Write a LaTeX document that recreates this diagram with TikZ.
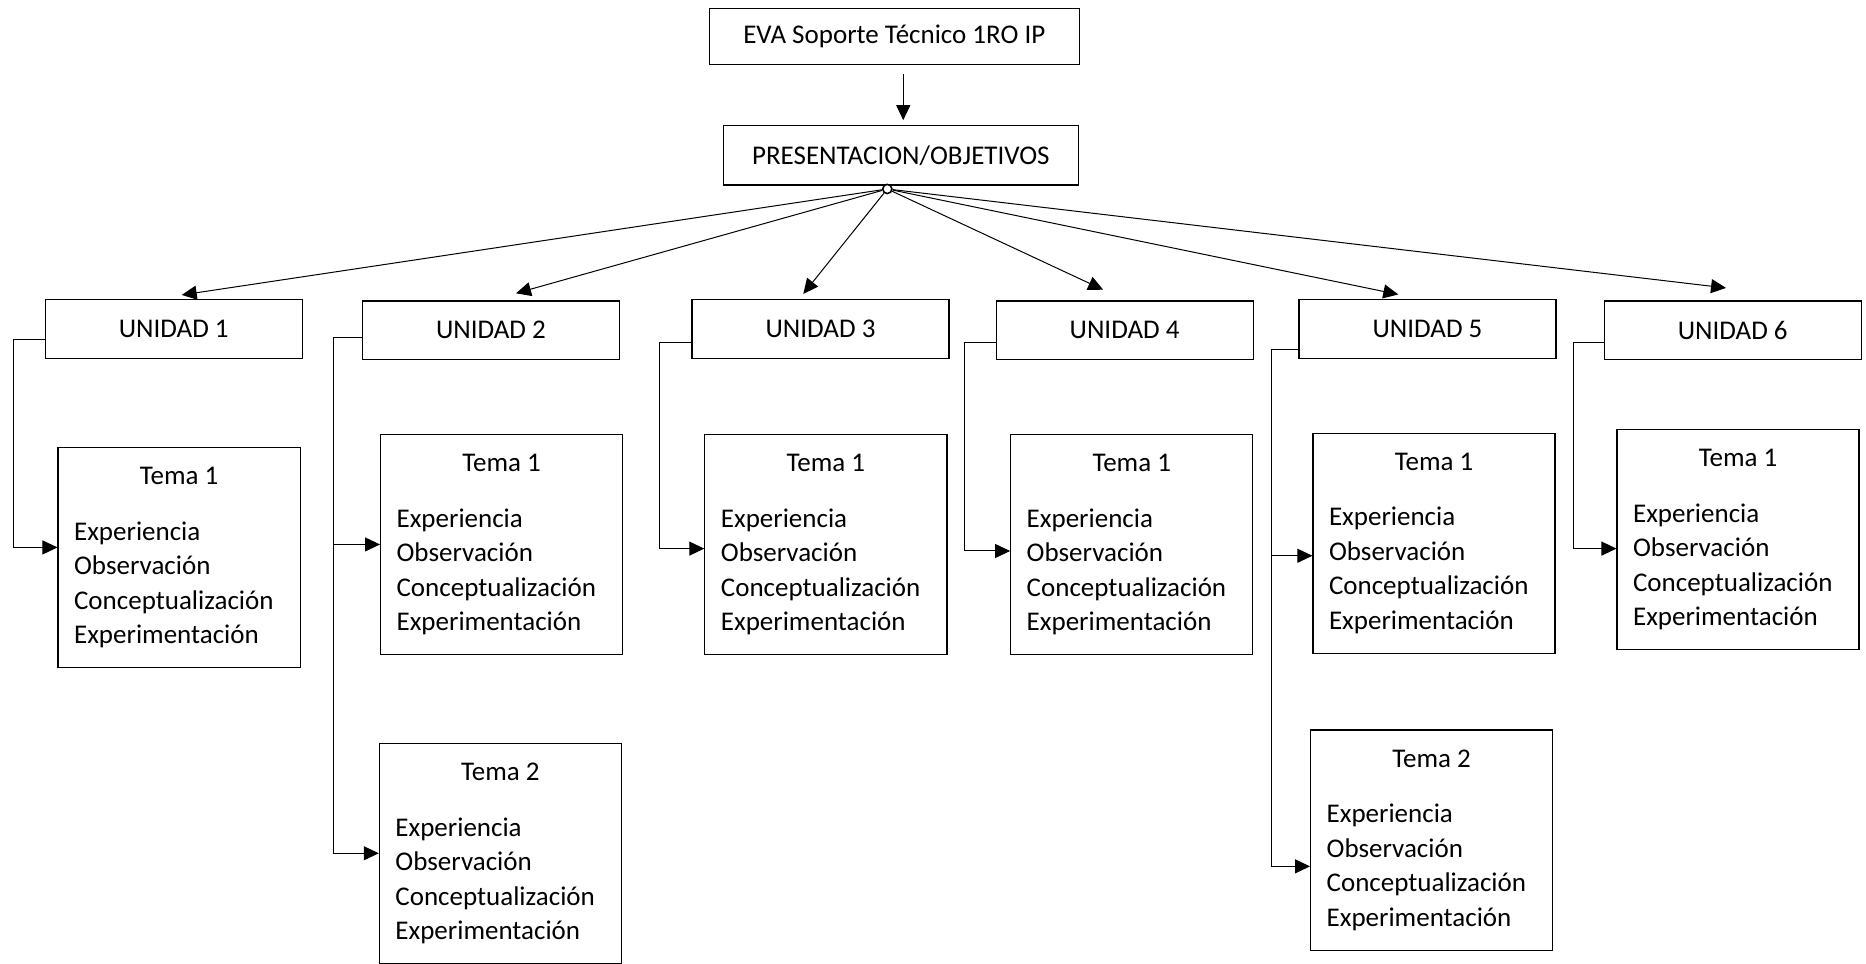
\documentclass[tikz,border=0pt]{standalone}
\usepackage{fontspec}
\setmainfont{Carlito}
\usetikzlibrary{arrows.meta,calc}
\newcommand{\temabody}[1]{\begin{minipage}{105pt}\fontsize{13.5pt}{17.26pt}\selectfont\centering Tema #1\par\vspace{10.7pt}\raggedright Experiencia\par Observación\par Conceptualización\par Experimentación\end{minipage}}
\tikzset{
  box/.style={draw, line width=0.6pt, inner sep=0pt, font=\fontsize{13.5pt}{15pt}\selectfont},
  topbox/.style={box, minimum width=185pt, minimum height=28pt},
  presbox/.style={box, minimum width=177.3pt, minimum height=29.75pt},
  unibox/.style={box, minimum width=128.5pt, minimum height=29.2pt},
  temabox/.style={box, minimum width=121pt, minimum height=110.1pt},
  arr/.style={line width=0.5pt, -{Triangle[length=7.5pt,width=7pt]}},
  ln/.style={line width=0.5pt}
}
\begin{document}
\begin{tikzpicture}[x=0.595pt,y=-0.595pt]
\useasboundingbox (0,0) rectangle (1568,810);
% top
\node[topbox] (top) at (751.5,30.5) {EVA Soporte Técnico 1RO IP};
\node[presbox] (pres) at (757,130.5) {PRESENTACION/OBJETIVOS};
\node[circle, draw, line width=0.8pt, fill=white, inner sep=0pt, minimum size=4.6pt] (hub) at (745.6,158.8) {};
\draw[arr] ($(top.south)+(7.5,8)$) -- ($(pres.north)+(2,-4)$);
% unidades
\node[unibox] (u1) at (146,276.5) {UNIDAD 1};
\node[unibox] (u2) at (412.5,277.5) {UNIDAD 2};
\node[unibox] (u3) at (689.5,276.5) {UNIDAD 3};
\node[unibox] (u4) at (945,277.5) {UNIDAD 4};
\node[unibox] (u5) at (1199.5,276.5) {UNIDAD 5};
\node[unibox] (u6) at (1456,277.5) {UNIDAD 6};
% temas
\node[temabox] (u1t1) at (150.5,468.5) {\temabody{1}};
\node[temabox] (u2t1) at (421.5,457.5) {\temabody{1}};
\node[temabox] (u2t2) at (420.5,717) {\temabody{2}};
\node[temabox] (u3t1) at (694,457.5) {\temabody{1}};
\node[temabox] (u4t1) at (951,457.5) {\temabody{1}};
\node[temabox] (u5t1) at (1205,456.5) {\temabody{1}};
\node[temabox] (u5t2) at (1203,706) {\temabody{2}};
\node[temabox] (u6t1) at (1460.5,453.5) {\temabody{1}};
% hub to unidades
\draw[arr] (hub) -- ($(u1.north)+(6.7,-3.6)$);
\draw[arr] (hub) -- ($(u2.north)+(21.1,-6)$);
\draw[arr] (hub) -- ($(u3.north)+(-14.5,-4.5)$);
\draw[arr] (hub) -- ($(u4.north)+(-18,-9)$);
\draw[arr] (hub) -- ($(u5.north)+(-24.5,-4)$);
\draw[arr] (hub) -- ($(u6.north)+(-5.6,-10.5)$);
% unidades to temas
\draw[arr] ($(u1.west)+(0,8.5)$) -- ++(-26,0) |- ($(u1t1.west)+(0,-8.5)$);
\draw[ln] ($(u2.west)+(0,6.5)$) -- ++(-24,0) coordinate (u2c) -- (u2c |- u2t2.west);
\draw[arr] (u2c |- u2t1.west) -- (u2t1.west);
\draw[arr] (u2c |- u2t2.west) -- (u2t2.west);
\draw[arr] ($(u3.west)+(0,11.5)$) -- ++(-27,0) |- ($(u3t1.west)+(0,3.5)$);
\draw[arr] ($(u4.west)+(0,10.5)$) -- ++(-26,0) |- ($(u4t1.west)+(0,5.5)$);
\draw[ln] ($(u5.west)+(0,17.5)$) -- ++(-23,0) coordinate (u5c) -- ($(u5c |- u5t2.west)+(0,22)$);
\draw[arr] ($(u5c |- u5t1.west)+(0,10.5)$) -- ($(u5t1.west)+(0,10.5)$);
\draw[arr] ($(u5c |- u5t2.west)+(0,22)$) -- ($(u5t2.west)+(0,22)$);
\draw[arr] ($(u6.west)+(0,10.5)$) -- ++(-25,0) |- ($(u6t1.west)+(0,7.5)$);
\end{tikzpicture}
\end{document}
